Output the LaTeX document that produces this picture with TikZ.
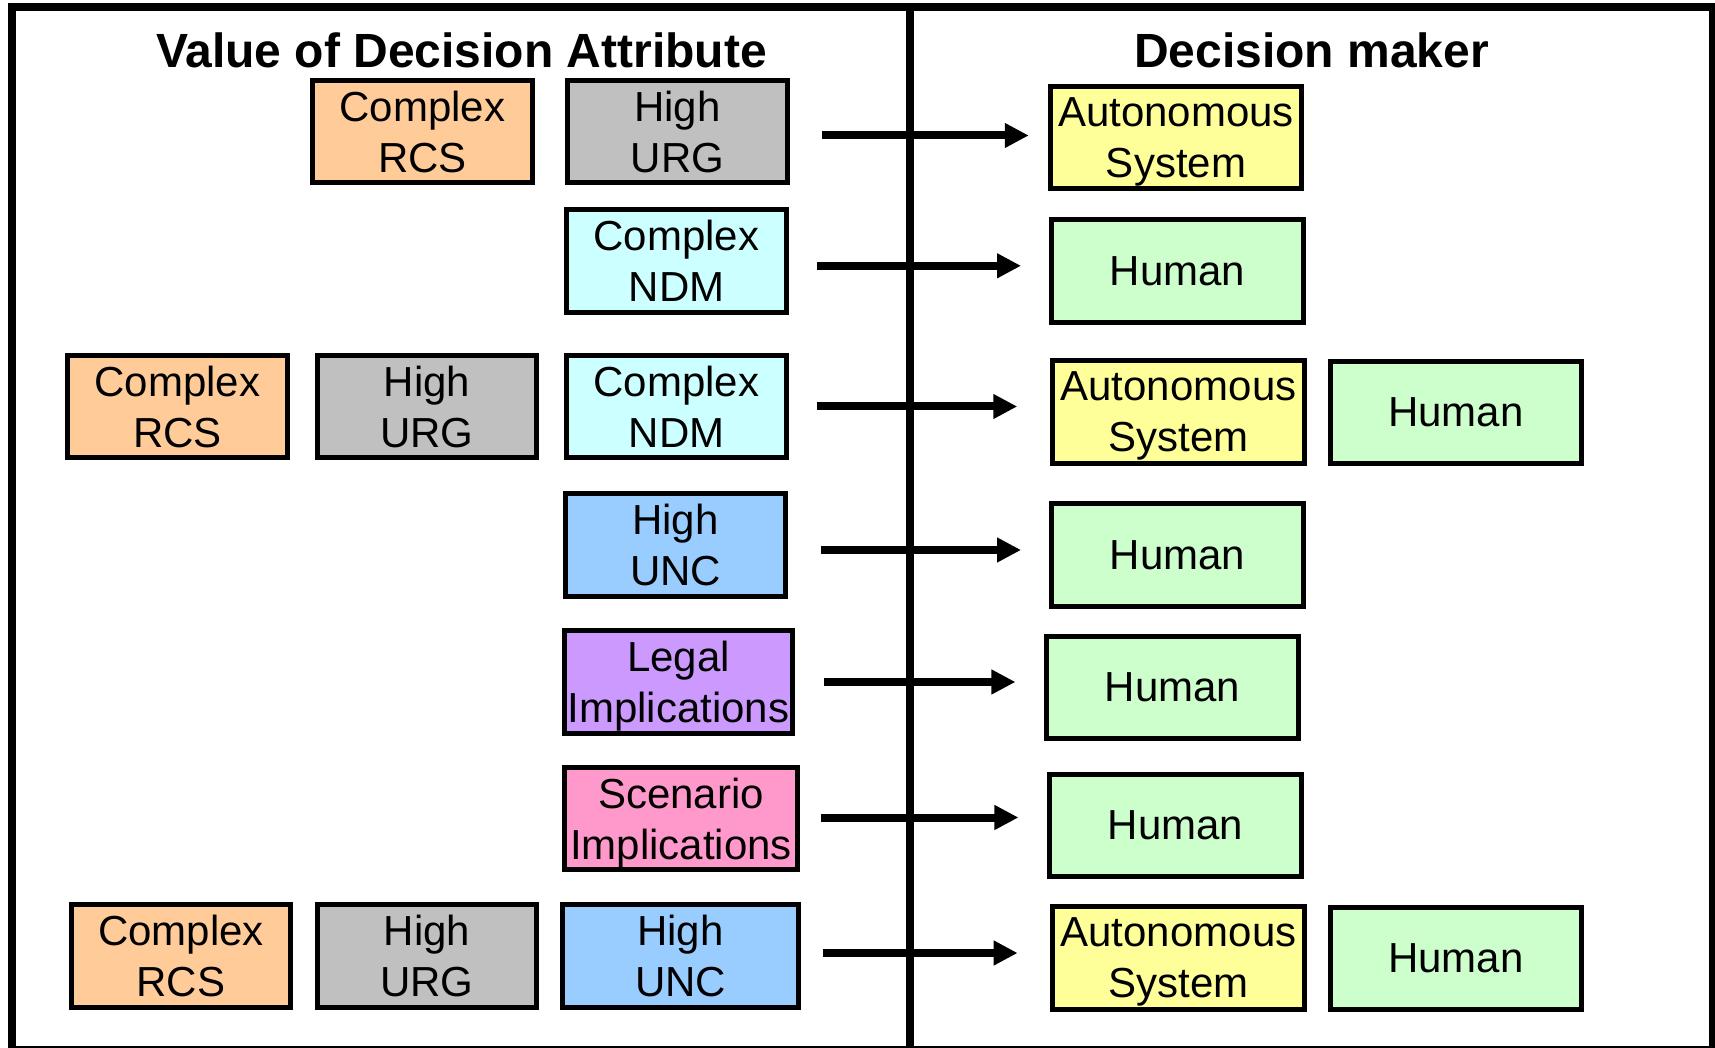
\documentclass[tikz,border=0pt]{standalone}
\usepackage{fontspec}
\setmainfont{Liberation Sans}
\usetikzlibrary{arrows.meta}
\definecolor{rcscol}{HTML}{FFCC99}
\definecolor{urgcol}{HTML}{C0C0C0}
\definecolor{ndmcol}{HTML}{CCFFFF}
\definecolor{unccol}{HTML}{99CCFF}
\definecolor{legcol}{HTML}{CC99FF}
\definecolor{scncol}{HTML}{FF99CC}
\definecolor{autocol}{HTML}{FFFF99}
\definecolor{humcol}{HTML}{CCFFCC}

\begin{document}
\begin{tikzpicture}[x=0.5pt,y=-0.5pt,
  box/.style={draw,line width=2.7pt,inner sep=0pt,align=center,text depth=0pt,minimum width=109.75pt,minimum height=51.25pt,font=\fontsize{21}{25.5}\selectfont},
  dm/.style={box,minimum width=125.75pt},
  head/.style={font=\fontsize{24}{28}\selectfont\bfseries,anchor=base},
  arr/.style={line width=4pt,-{Triangle[length=12pt,width=11.7pt]}}]
\useasboundingbox (0,0) rectangle (1715,1048);
\draw[line width=3.6pt] (12,7) rectangle (1712.5,1050);
\draw[line width=4pt] (910,7) -- (910,1050);
\node[head] (attrtitle) at (461.5,68) {Value of Decision Attribute};
\node[head] (dmtitle) at (1311.5,68) {Decision maker};
% attributes
\node[box,fill=rcscol] (rcsA) at (422.5,131.5) {Complex\\RCS};
\node[box,fill=urgcol] (urgA) at (677.5,131.5) {High\\URG};
\node[box,fill=ndmcol] (ndmB) at (676.5,261) {Complex\\NDM};
\node[box,fill=rcscol] (rcsC) at (177.5,406.5) {Complex\\RCS};
\node[box,fill=urgcol] (urgC) at (427,406.5) {High\\URG};
\node[box,fill=ndmcol] (ndmC) at (676.5,406.5) {Complex\\NDM};
\node[box,fill=unccol] (uncD) at (675.5,545) {High\\UNC};
\node[box,fill=legcol,minimum width=114.25pt] (legE) at (678.5,682) {Legal\\Implications};
\node[box,fill=scncol,minimum width=116.25pt] (scnF) at (681,818.5) {Scenario\\Implications};
\node[box,fill=rcscol] (rcsG) at (181,956) {Complex\\RCS};
\node[box,fill=urgcol] (urgG) at (427,956) {High\\URG};
\node[box,fill=unccol,minimum width=117.75pt] (uncG) at (680.5,956) {High\\UNC};
% decision makers
\node[dm,fill=autocol] (autoA) at (1176,137.5) {Autonomous\\System};
\node[dm,fill=humcol] (humB) at (1177.5,271) {Human};
\node[dm,fill=autocol] (autoC) at (1178.5,412) {Autonomous\\System};
\node[dm,fill=humcol] (humC) at (1456,412.5) {Human};
\node[dm,fill=humcol] (humD) at (1177.5,555) {Human};
\node[dm,fill=humcol] (humE) at (1172.5,687.5) {Human};
\node[dm,fill=humcol] (humF) at (1175.5,825.5) {Human};
\node[dm,fill=autocol] (autoG) at (1178.5,958) {Autonomous\\System};
\node[dm,fill=humcol] (humG) at (1456,958.5) {Human};
% arrows: from/to/shorten start/shorten end/shift
\foreach \a/\b/\s/\t/\y in {urgA/autoA/16.2/9.4/-2,ndmB/humB/14/14/-2.4,ndmC/autoC/14/16.4/0,
  uncD/humD/16.4/14/-2.5,legE/humE/14.4/14.3/0,scnF/humF/10.4/14.3/0.5,uncG/autoG/11/16.2/1.5}
\draw[arr,shorten <=\s pt,shorten >=\t pt] ([yshift=\y pt]\a.east) -- ([yshift=\y pt]\a.east -| \b.west);
\end{tikzpicture}
\end{document}
